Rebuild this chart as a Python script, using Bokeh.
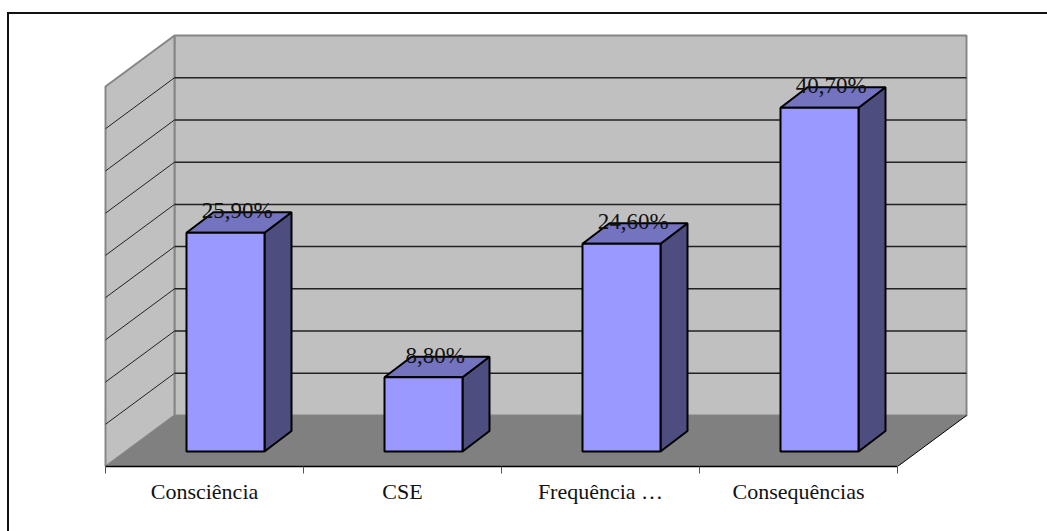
from bokeh.embed import file_html
from bokeh.models import FixedTicker, InlineStyleSheet, Range1d
from bokeh.plotting import figure
from bokeh.resources import INLINE

categories = ["Consciência", "CSE", "Frequência …", "Consequências"]
values = [25.9, 8.8, 24.6, 40.7]
value_labels = ["25,90%", "8,80%", "24,60%", "40,70%"]
grid_values = [0, 5, 10, 15, 20, 25, 30, 35, 40, 45]

WALL = "#c0c0c0"
FLOOR = "#808080"
EDGE = "#868686"
FRONT = "#9999ff"
TOP = "#7373bf"
SIDE = "#4d4d80"
SERIF = "Liberation Serif"

# Plot scales: one category is 198 px wide, one percentage point 8.44 px tall.
FRAME_L, FRAME_R, FRAME_T, FRAME_B = 100, 972, 28, 466
CAT_W = 198.0
PCT_H = 380.0 / 45
# Depth of the 3D box, in data units.
DX = 69.0 / CAT_W
DY = 51.0 / PCT_H
# Depth of a bar, and its position inside the floor.
BAR_DX = 27.0 / CAT_W
BAR_DY = 20.5 / PCT_H
BAR_SHIFT_X = 14.0 / CAT_W
BAR_SHIFT_Y = 15.0 / PCT_H
BAR_W = 78.0 / CAT_W
BAR_GAP = (186.0 - 105.0 - 14.0) / CAT_W

p = figure(
    width=1047, height=531,
    x_range=Range1d(-(105 - FRAME_L) / CAT_W, (FRAME_R - 105) / CAT_W),
    y_range=Range1d(0, (FRAME_B - FRAME_T) / PCT_H),
    output_backend="svg", toolbar_location=None,
    min_border_left=FRAME_L, min_border_right=1047 - FRAME_R,
    min_border_top=FRAME_T, min_border_bottom=531 - FRAME_B,
    y_axis_location=None,
)
p.xgrid.visible = False
p.ygrid.visible = False
p.outline_line_color = None
p.background_fill_color = "white"

# The surrounding margin is transparent so that the page rules behind it show:
# a thin black line along the top and the left of the chart, running off the page.
p.border_fill_color = None
p.stylesheets = [InlineStyleSheet(css="""
:host {
  background-color: white;
  background-image: linear-gradient(#111, #111), linear-gradient(#111, #111);
  background-repeat: no-repeat;
  background-size: 100% 2px, 2px 100%;
  background-position: 7px 12px, 7px 12px;
}
""")]

# Value axis is hidden; the category axis carries the labels and boundary ticks.
ax = p.xaxis[0]
ax.ticker = FixedTicker(ticks=[i + 0.5 for i in range(4)], minor_ticks=list(range(5)))
ax.major_label_overrides = {i + 0.5: c for i, c in enumerate(categories)}
ax.major_label_text_font = SERIF
ax.major_label_text_font_size = "22px"
ax.major_label_text_color = "#111111"
ax.major_label_standoff = 5
ax.major_tick_line_color = None
ax.minor_tick_in = 0
ax.minor_tick_out = 7
ax.minor_tick_line_color = "#555555"
ax.axis_line_color = "black"
ax.axis_line_width = 1.5
ax.bounds = (0, 4)

top = max(grid_values)
n = len(categories)

# Walls and floor of the box.
p.patch([DX, n + DX, n + DX, DX], [DY, DY, top + DY, top + DY],
        fill_color=WALL, line_color=EDGE, line_width=2)
p.patch([0, DX, DX, 0], [0, DY, top + DY, top],
        fill_color=WALL, line_color=EDGE, line_width=2)
p.patch([0, DX, n + DX, n], [0, DY, DY, 0],
        fill_color=FLOOR, line_color=None)
p.line([n, n + DX], [0, DY], line_color="black", line_width=1)

# Gridlines across both walls.
for g in grid_values[1:-1]:
    p.line([DX, n + DX], [g + DY, g + DY], line_color="#222222", line_width=1.5)
    p.line([0, DX], [g, g + DY], line_color="#222222", line_width=1)

# Bars as three faces each.
for i, (v, lab) in enumerate(zip(values, value_labels)):
    x0 = i + BAR_SHIFT_X + BAR_GAP
    x1 = x0 + BAR_W
    y0 = BAR_SHIFT_Y
    y1 = y0 + v
    p.patch([x1, x1 + BAR_DX, x1 + BAR_DX, x1],
            [y0, y0 + BAR_DY, y1 + BAR_DY, y1],
            fill_color=SIDE, line_color="black", line_width=2)
    p.patch([x0, x0 + BAR_DX, x1 + BAR_DX, x1],
            [y1, y1 + BAR_DY, y1 + BAR_DY, y1],
            fill_color=TOP, line_color="black", line_width=2)
    p.quad(left=x0, right=x1, bottom=y0, top=y1,
           fill_color=FRONT, line_color="black", line_width=2)
    p.text([x0 + BAR_W / 2 + BAR_DX * 0.43], [y1 + BAR_DY + 1.5 / PCT_H],
           text=[lab], text_align="center", text_baseline="middle",
           text_font={"value": SERIF}, text_font_size="23px", text_color="#111111")

open("out.html", "w").write(file_html(p, INLINE))
